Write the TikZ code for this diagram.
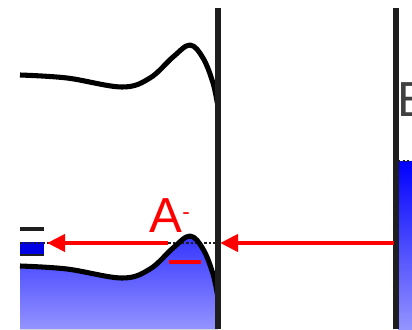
\documentclass[tikz,border=0pt]{standalone}
\usepackage{fontspec}
\setmainfont{Liberation Sans}
\usepackage{tikz}
\usetikzlibrary{arrows.meta, calc}
\definecolor{wall_gray}{RGB}{30,30,30}
\tikzset{
    wall/.style={draw=wall_gray, line width=3.8pt},
    band_line/.style={draw=black, line width=3.6pt, line join=round},
    band_fill_left/.style={top color=blue!80!white, bottom color=blue!42!white},
    band_fill_right/.style={top color=blue, bottom color=blue!42!white},
    level_red/.style={draw=red, line width=3pt},
    fermi/.style={draw=wall_gray, line width=1.3pt, dash pattern=on 1.6pt off 1.6pt},
    arrow/.style={-{Triangle[length=0.45cm, width=0.42cm]}, draw=red, line width=3.4pt},
    big_label/.style={font=\fontsize{35}{40}\selectfont, inner sep=0pt}
}

\begin{document}
\begin{tikzpicture}[x=0.025cm, y=0.025cm]
    \clip (0,0) rectangle (412,329);
    \fill[white] (0,0) rectangle (412,329);

    % filled bands
    \fill[band_fill_left] plot[smooth, tension=0.6] coordinates {(20,63) (67,60) (122,51) (150,60) (173,81) (190,93) (203,80) (213,55) (218,31)} -- (218,0) -- (20,0) -- cycle;
    \fill[band_fill_right] (398,0) rectangle (412,168);
    \draw[fermi] (398,168) -- (412,168);

    % levels on the left edge
    \fill[blue!90!black] (20,74) rectangle (44,87);
    \draw[draw=wall_gray, line width=2pt] (20,74) -- (44,74);
    \draw[draw=wall_gray, line width=2.2pt] (20,100) -- (44,100);
    \draw[fermi] (20,86) -- (218,86);

    % band edges
    \draw[band_line] plot[smooth, tension=0.6] coordinates {(20,254) (67,251) (122,242) (150,251) (173,272) (190,284) (203,271) (213,246) (218,222)};
    \draw[band_line] plot[smooth, tension=0.6] coordinates {(20,63) (67,60) (122,51) (150,60) (173,81) (190,93) (203,80) (213,55) (218,31)};

    % walls
    \draw[wall] (218,0) -- (218,321);
    \draw[wall] (396,0) -- (396,321);

    % acceptor level and arrows
    \draw[level_red] (169,67) -- (201,67);
    \coordinate (acc_start) at (168,86);
    \coordinate (acc_tip) at (47,86);
    \coordinate (inj_start) at (394,86);
    \coordinate (inj_tip) at (220,86);
    \draw[arrow] (inj_start) -- (inj_tip);
    \draw[arrow] (acc_start) -- (acc_tip);

    % labels
    \node (acc) [big_label, text=red, anchor=base] at (170,97) {A\textsuperscript{\fontsize{16}{16}\selectfont -}};
    \node (ener) [big_label, text=wall_gray!85, anchor=base west] at (397,212) {E};
\end{tikzpicture}
\end{document}
